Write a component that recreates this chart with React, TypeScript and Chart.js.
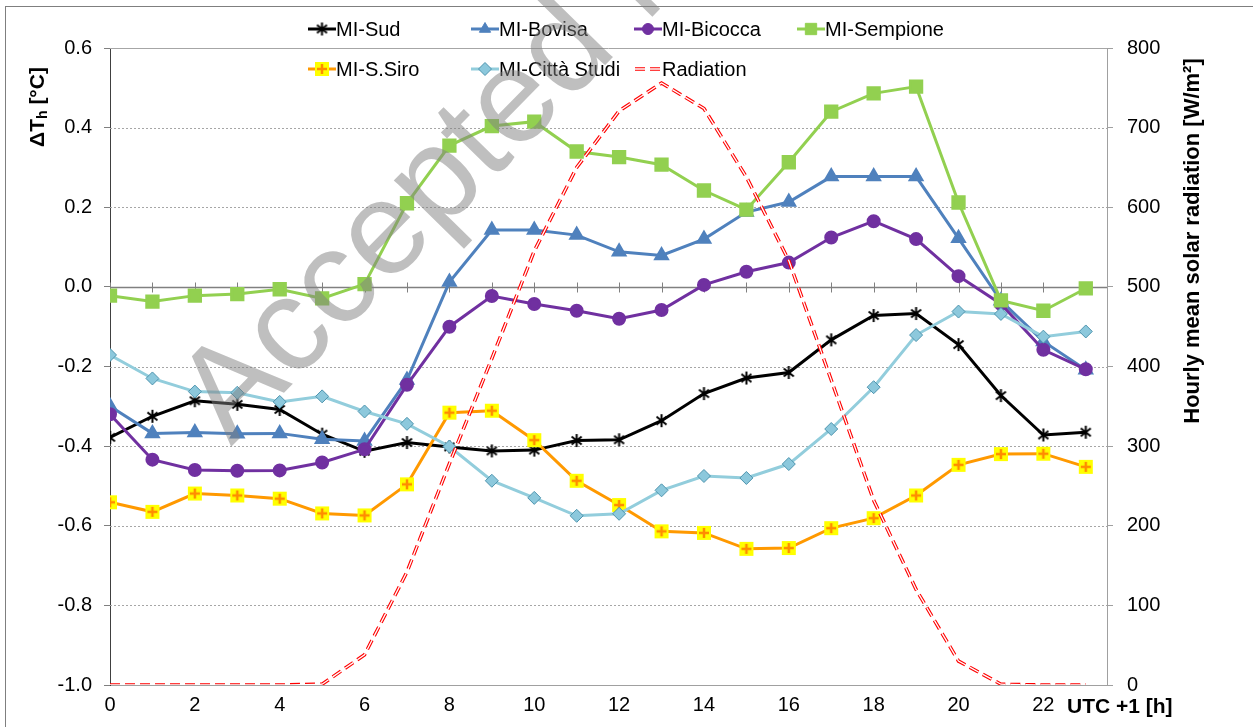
import React, { useEffect, useRef } from "react";
import { Chart, registerables } from "chart.js";

Chart.register(...registerables);

// ---------- data ----------
const hours = [0, 1, 2, 3, 4, 5, 6, 7, 8, 9, 10, 11, 12, 13, 14, 15, 16, 17, 18, 19, 20, 21, 22, 23];

const miSud = [-0.378, -0.325, -0.286, -0.295, -0.308, -0.37, -0.413, -0.391, -0.402, -0.412, -0.41, -0.386, -0.384, -0.336, -0.268, -0.229, -0.215, -0.133, -0.072, -0.067, -0.145, -0.273, -0.372, -0.365];
const miBovisa = [-0.3, -0.368, -0.366, -0.369, -0.368, -0.383, -0.387, -0.234, 0.012, 0.143, 0.143, 0.13, 0.088, 0.079, 0.12, 0.188, 0.213, 0.277, 0.277, 0.277, 0.122, -0.035, -0.137, -0.208];
const miBicocca = [-0.32, -0.434, -0.46, -0.462, -0.461, -0.441, -0.408, -0.246, -0.1, -0.023, -0.043, -0.06, -0.08, -0.058, 0.005, 0.038, 0.061, 0.124, 0.165, 0.12, 0.027, -0.043, -0.158, -0.207];
const miSempione = [-0.022, -0.037, -0.022, -0.018, -0.006, -0.029, 0.007, 0.21, 0.355, 0.404, 0.415, 0.34, 0.326, 0.307, 0.242, 0.194, 0.313, 0.44, 0.486, 0.503, 0.212, -0.034, -0.06, -0.004];
const miSSiro = [-0.541, -0.565, -0.519, -0.524, -0.532, -0.569, -0.574, -0.496, -0.316, -0.311, -0.385, -0.487, -0.548, -0.614, -0.618, -0.658, -0.656, -0.606, -0.581, -0.524, -0.447, -0.42, -0.419, -0.452];
const miCittaStudi = [-0.171, -0.23, -0.263, -0.266, -0.289, -0.275, -0.313, -0.344, -0.401, -0.487, -0.53, -0.575, -0.57, -0.511, -0.475, -0.48, -0.445, -0.357, -0.252, -0.121, -0.062, -0.068, -0.125, -0.112];
const radiation = [0, 0, 0, 0, 0, 1, 38, 142, 278, 410, 545, 650, 721, 756, 724, 638, 533, 383, 232, 120, 30, 1, 0, 0];

const seriesNames = ["MI-Sud", "MI-Bovisa", "MI-Bicocca", "MI-Sempione", "MI-S.Siro", "MI-Città Studi", "Radiation"];

const leftTitleMain = "ΔT";
const leftTitleSub = "h";
const leftTitleTail = " [°C]";
const rightTitle = "Hourly mean solar radiation [W/m²]";
const xTitle = "UTC +1 [h]";
const watermark = "Accepted Manuscript";

const FONT = "'Liberation Sans', Arial, Helvetica, sans-serif";

function makeStar(): HTMLCanvasElement {
  const c = document.createElement("canvas");
  c.width = 15;
  c.height = 15;
  const g = c.getContext("2d")!;
  g.strokeStyle = "#000";
  g.lineWidth = 2;
  g.beginPath();
  g.moveTo(2.5, 3.5);
  g.lineTo(12.5, 11.5);
  g.moveTo(12.5, 3.5);
  g.lineTo(2.5, 11.5);
  g.moveTo(7.5, 1);
  g.lineTo(7.5, 14);
  g.stroke();
  return c;
}

function makePlusSquare(): HTMLCanvasElement {
  const c = document.createElement("canvas");
  c.width = 16;
  c.height = 16;
  const g = c.getContext("2d")!;
  g.fillStyle = "#FFFF00";
  g.fillRect(1, 1, 14, 14);
  g.strokeStyle = "#FF8C00";
  g.lineWidth = 2.5;
  g.beginPath();
  g.moveTo(3, 8);
  g.lineTo(13, 8);
  g.moveTo(8, 3);
  g.lineTo(8, 13);
  g.stroke();
  return c;
}

function drawMarker(ctx: CanvasRenderingContext2D, ds: any, x: number, y: number) {
  const style = ds.pointStyle;
  if (style instanceof HTMLCanvasElement) {
    ctx.drawImage(style, x - style.width / 2, y - style.height / 2);
    return;
  }
  const r = ds.pointRadius || 0;
  if (!r) return;
  ctx.save();
  ctx.setLineDash([]);
  ctx.fillStyle = ds.pointBackgroundColor || ds.backgroundColor;
  ctx.strokeStyle = ds.pointBorderColor || ds.borderColor;
  ctx.lineWidth = ds.pointBorderWidth ?? 1;
  ctx.beginPath();
  if (style === "circle") {
    ctx.arc(x, y, r, 0, Math.PI * 2);
  } else if (style === "rect") {
    const s = r * Math.SQRT1_2;
    ctx.rect(x - s, y - s, 2 * s, 2 * s);
  } else if (style === "rectRot") {
    ctx.moveTo(x - r, y);
    ctx.lineTo(x, y - r);
    ctx.lineTo(x + r, y);
    ctx.lineTo(x, y + r);
    ctx.closePath();
  } else if (style === "triangle") {
    let a = 0;
    ctx.moveTo(x + Math.sin(a) * r, y - Math.cos(a) * r);
    a += (2 * Math.PI) / 3;
    ctx.lineTo(x + Math.sin(a) * r, y - Math.cos(a) * r);
    a += (2 * Math.PI) / 3;
    ctx.lineTo(x + Math.sin(a) * r, y - Math.cos(a) * r);
    ctx.closePath();
  }
  ctx.fill();
  ctx.stroke();
  ctx.restore();
}

const RAD_DASH = [10, 5];

const framePlugin = {
  id: "frame",
  beforeDatasetsDraw(chart: any) {
    const { ctx, chartArea } = chart;
    const ys = chart.scales.y;
    const xs = chart.scales.x;
    ctx.save();
    ys.ticks.forEach((t: any) => {
      const v = t.value;
      const py = Math.round(ys.getPixelForValue(v)) + 0.5;
      if (Math.abs(v - ys.min) < 1e-9) return;
      ctx.beginPath();
      if (Math.abs(v) < 1e-9) {
        ctx.setLineDash([]);
        ctx.strokeStyle = "#808080";
        ctx.lineWidth = 1.3;
      } else if (Math.abs(v - ys.max) < 1e-9) {
        ctx.setLineDash([]);
        ctx.strokeStyle = "#A6A6A6";
        ctx.lineWidth = 1;
      } else {
        ctx.setLineDash([2, 2]);
        ctx.strokeStyle = "#A6A6A6";
        ctx.lineWidth = 1;
      }
      ctx.moveTo(chartArea.left, py);
      ctx.lineTo(chartArea.right, py);
      ctx.stroke();
    });
    // hour tick marks on the zero line
    const y0 = Math.round(ys.getPixelForValue(0)) + 0.5;
    ctx.setLineDash([]);
    ctx.strokeStyle = "#808080";
    ctx.lineWidth = 1;
    ctx.beginPath();
    hours.forEach((h) => {
      const px = Math.round(xs.getPixelForValue(h)) + 0.5;
      ctx.moveTo(px, y0 - 5);
      ctx.lineTo(px, y0 + 5);
    });
    ctx.stroke();
    ctx.restore();
  },
  afterDraw(chart: any) {
    const { ctx } = chart;
    ctx.save();
    // outer chart border
    ctx.strokeStyle = "#7F7F7F";
    ctx.lineWidth = 1;
    ctx.strokeRect(5.5, 6.5, 1400, 1400);

    // legend
    const cols = [322, 485, 648, 811];
    const rows = [29, 69];
    const datasets = chart.data.datasets.filter((d: any) => seriesNames.includes(d.label));
    ctx.font = `20px ${FONT}`;
    ctx.textBaseline = "middle";
    ctx.textAlign = "left";
    datasets.forEach((ds: any, i: number) => {
      const mx = cols[i % 4];
      const my = rows[Math.floor(i / 4)];
      ctx.save();
      ctx.beginPath();
      ctx.strokeStyle = ds.borderColor;
      ctx.lineWidth = ds.borderWidth;
      if (ds.borderDash && ds.borderDash.length) {
        ctx.setLineDash(ds.borderDash);
        ctx.moveTo(mx - 13, my);
        ctx.lineTo(mx + 12, my);
        ctx.stroke();
        ctx.beginPath();
        ctx.strokeStyle = "#FFFFFF";
        ctx.lineWidth = 1.3;
        ctx.moveTo(mx - 13, my);
        ctx.lineTo(mx + 12, my);
        ctx.stroke();
      } else {
        ctx.setLineDash([]);
        ctx.moveTo(mx - 14, my);
        ctx.lineTo(mx + 14, my);
        ctx.stroke();
      }
      ctx.restore();
      drawMarker(ctx, ds, mx, my);
      ctx.fillStyle = "#000";
      ctx.fillText(ds.label, mx + 14, my + 1);
    });

    // left axis title with subscript
    ctx.save();
    ctx.translate(38, 107);
    ctx.rotate(-Math.PI / 2);
    ctx.fillStyle = "#000";
    ctx.textBaseline = "middle";
    ctx.textAlign = "left";
    const bigF = `bold 21px ${FONT}`;
    const subF = `bold 14px ${FONT}`;
    ctx.font = bigF;
    const w1 = ctx.measureText(leftTitleMain).width;
    const w3 = ctx.measureText(leftTitleTail).width;
    ctx.font = subF;
    const w2 = ctx.measureText(leftTitleSub).width;
    let sx = -(w1 + w2 + w3) / 2;
    ctx.font = bigF;
    ctx.fillText(leftTitleMain, sx, 0);
    sx += w1;
    ctx.font = subF;
    ctx.fillText(leftTitleSub, sx, 5);
    sx += w2;
    ctx.font = bigF;
    ctx.fillText(leftTitleTail, sx, 0);
    ctx.restore();

    // right axis title
    ctx.save();
    ctx.translate(1193, 241);
    ctx.rotate(-Math.PI / 2);
    ctx.fillStyle = "#000";
    ctx.textBaseline = "middle";
    ctx.textAlign = "center";
    ctx.font = `bold 22px ${FONT}`;
    ctx.fillText(rightTitle, 0, 0);
    ctx.restore();

    // x axis title
    ctx.fillStyle = "#000";
    ctx.font = `bold 21px ${FONT}`;
    ctx.textAlign = "left";
    ctx.textBaseline = "middle";
    ctx.fillText(xTitle, 1067, 707);

    // watermark
    ctx.save();
    ctx.translate(231, 447);
    ctx.rotate((-45.6 * Math.PI) / 180);
    ctx.fillStyle = "rgba(128,128,128,0.5)";
    ctx.font = `133px ${FONT}`;
    ctx.textAlign = "left";
    ctx.textBaseline = "alphabetic";
    ctx.fillText(watermark, 0, 0);
    ctx.restore();

    ctx.restore();
  },
};

export default function App() {
  const ref = useRef<HTMLCanvasElement | null>(null);

  useEffect(() => {
    if (!ref.current) return;
    const star = makeStar();
    const plusSq = makePlusSquare();
    const pts = (vals: number[]) => hours.map((h, i) => ({ x: h, y: vals[i] }));

    const chart = new Chart(ref.current, {
      type: "line",
      data: {
        datasets: [
          {
            label: seriesNames[0],
            data: pts(miSud),
            yAxisID: "y",
            borderColor: "#000000",
            backgroundColor: "#000000",
            borderWidth: 3,
            pointStyle: star as any,
            pointRadius: 7,
            order: 7,
          },
          {
            label: seriesNames[1],
            data: pts(miBovisa),
            yAxisID: "y",
            borderColor: "#4F81BD",
            backgroundColor: "#4F81BD",
            borderWidth: 3,
            pointStyle: "triangle",
            pointRadius: 6.5,
            order: 6,
          },
          {
            label: seriesNames[2],
            data: pts(miBicocca),
            yAxisID: "y",
            borderColor: "#7030A0",
            backgroundColor: "#7030A0",
            borderWidth: 3,
            pointStyle: "circle",
            pointRadius: 5.5,
            order: 5,
          },
          {
            label: seriesNames[3],
            data: pts(miSempione),
            yAxisID: "y",
            borderColor: "#92D050",
            backgroundColor: "#92D050",
            borderWidth: 3,
            pointStyle: "rect",
            pointRadius: 8,
            order: 4,
          },
          {
            label: seriesNames[4],
            data: pts(miSSiro),
            yAxisID: "y",
            borderColor: "#FF9900",
            backgroundColor: "#FFFF00",
            borderWidth: 3,
            pointStyle: plusSq as any,
            pointRadius: 8,
            order: 3,
          },
          {
            label: seriesNames[5],
            data: pts(miCittaStudi),
            yAxisID: "y",
            borderColor: "#92CDDC",
            backgroundColor: "#92CDDC",
            pointBackgroundColor: "#8CC8DC",
            pointBorderColor: "#4E94AE",
            pointBorderWidth: 1,
            borderWidth: 3,
            pointStyle: "rectRot",
            pointRadius: 6.5,
            order: 2,
          },
          {
            label: seriesNames[6],
            data: pts(radiation),
            yAxisID: "y2",
            borderColor: "#FF0000",
            backgroundColor: "#FF0000",
            borderWidth: 3.5,
            borderDash: RAD_DASH,
            pointRadius: 0,
            order: 1,
          },
          {
            label: "radiation-inner",
            data: pts(radiation),
            yAxisID: "y2",
            borderColor: "#FFFFFF",
            borderWidth: 1.3,
            borderDash: RAD_DASH,
            pointRadius: 0,
            order: 0,
          },
        ] as any,
      },
      options: {
        responsive: false,
        animation: false,
        events: [],
        layout: { padding: { top: 48, left: 0, right: 0, bottom: 0 } },
        elements: { line: { tension: 0 } },
        plugins: {
          legend: { display: false },
          tooltip: { enabled: false },
          title: { display: false },
        },
        scales: {
          x: {
            type: "linear",
            position: "bottom",
            min: 0,
            max: 23.5,
            ticks: {
              stepSize: 2,
              includeBounds: false,
              autoSkip: false,
              maxRotation: 0,
              padding: 8,
              color: "#000",
              font: { family: FONT, size: 20 },
              callback: (v: any) => String(v),
            },
            grid: { display: false, drawTicks: false },
            border: { display: true, color: "#A0A0A0", width: 1 },
            afterFit: (s: any) => {
              s.height = 42;
            },
          },
          y: {
            position: "left",
            min: -1,
            max: 0.6,
            ticks: {
              stepSize: 0.2,
              padding: 12,
              color: "#000",
              font: { family: FONT, size: 20 },
              callback: (v: any) => Number(v).toFixed(1),
            },
            grid: { display: true, drawOnChartArea: false, drawTicks: true, tickLength: 6, tickColor: "#808080" },
            border: { display: true, color: "#404040", width: 1 },
            afterFit: (s: any) => {
              s.width = 110;
            },
          },
          y2: {
            position: "right",
            min: 0,
            max: 800,
            ticks: {
              stepSize: 100,
              padding: 14,
              color: "#000",
              font: { family: FONT, size: 20 },
            },
            grid: { display: true, drawOnChartArea: false, drawTicks: true, tickLength: 6, tickColor: "#A0A0A0" },
            border: { display: true, color: "#A0A0A0", width: 1 },
            afterFit: (s: any) => {
              s.width = 146;
            },
          },
        },
      } as any,
      plugins: [framePlugin],
    });
    return () => chart.destroy();
  }, []);

  return (
    <div style={{ position: "absolute", left: 0, top: 0, width: 1253, height: 727, background: "#fff" }}>
      <canvas ref={ref} width={1253} height={727} style={{ width: 1253, height: 727, display: "block" }} />
    </div>
  );
}
